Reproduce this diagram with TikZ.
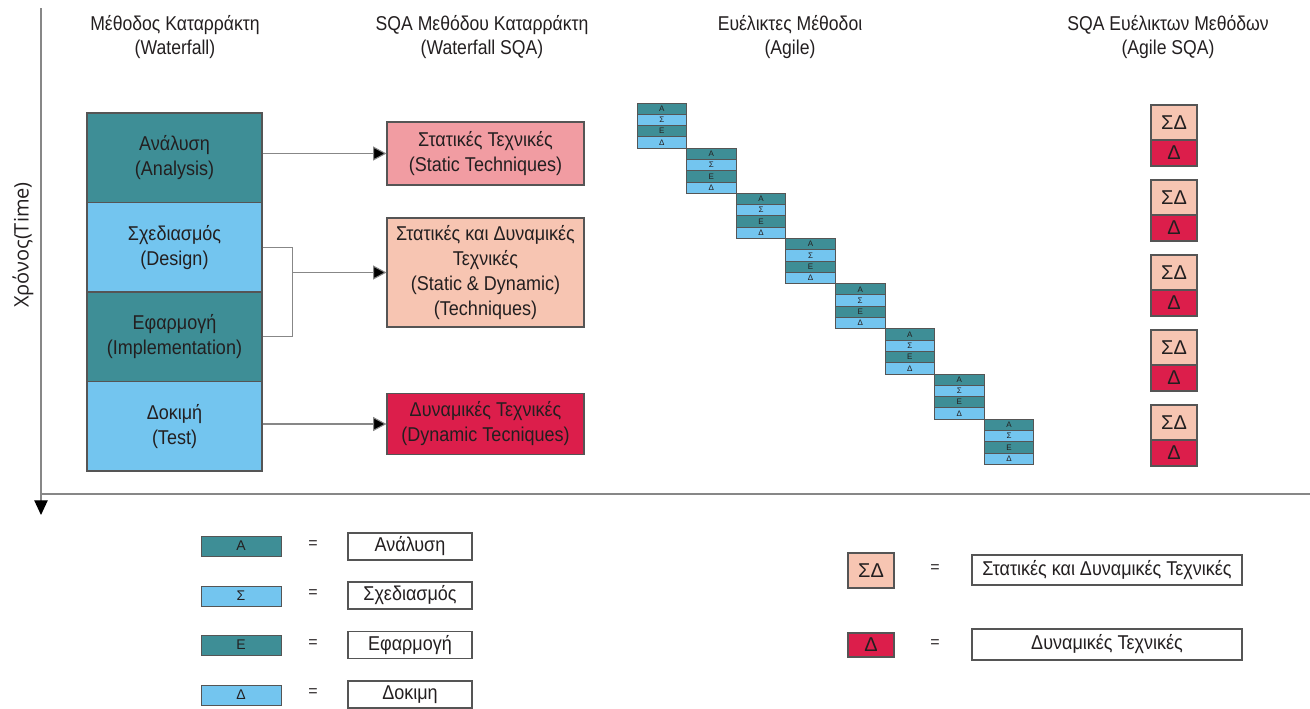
\documentclass[tikz,border=0pt]{standalone}
\usepackage{fontspec}
\setmainfont{Liberation Sans}
\newfontfamily\hdrfont[FakeStretch=0.88]{Liberation Sans}
\newfontfamily\bxfont[FakeStretch=0.9]{Liberation Sans}
\newfontfamily\axfont{Open Sans}
\usetikzlibrary{arrows.meta}
\definecolor{teal1}{RGB}{62,142,150}
\definecolor{lblue}{RGB}{115,197,239}
\definecolor{pinkA}{RGB}{241,156,162}
\definecolor{peach}{RGB}{247,197,178}
\definecolor{crim}{RGB}{220,30,75}
\definecolor{bord}{RGB}{85,85,85}
\definecolor{axisg}{RGB}{135,135,135}
\definecolor{txt}{RGB}{35,31,32}
\tikzset{
  sz/.style 2 args={minimum width=#1*0.75pt, minimum height=#2*0.75pt},
  box/.style={draw=bord, line width=0.8pt, inner sep=0pt, align=center, text=txt,
              font=\bxfont\fontsize{15}{18.75}\selectfont},
  hdr/.style={align=center, text=txt, font=\hdrfont\fontsize{15}{18}\selectfont},
  mini/.style={draw=bord, line width=0.6pt, inner sep=0pt, text=txt,
               minimum width=49.6*0.75pt, minimum height=11.29*0.75pt,
               font=\fontsize{6}{6}\selectfont},
  lgsym/.style={draw=bord, line width=0.7pt, inner sep=0pt, text=txt,
                font=\fontsize{10.5}{10.5}\selectfont},
  eq/.style={text=txt, font=\fontsize{12}{12}\selectfont},
  link/.style={draw=axisg, line width=0.8pt},
  arr/.style={link, -{Triangle[length=10pt,width=10.5pt,fill=black]}},
  axisline/.style={draw=axisg, line width=0.9pt}
}
\begin{document}
\begin{tikzpicture}[x=0.75pt, y={(0pt,-0.75pt)}]
\useasboundingbox (0,0) rectangle (1310,708);

% axes
\coordinate (ytop) at (41,8);
\coordinate (ybot) at (41,515);
\coordinate (xl) at (41,494);
\coordinate (xr) at (1310,494);
\draw[axisline] (xl) -- (xr);
\draw[axisline, -{Triangle[length=11pt,width=10pt,fill=black,color=black]}] (ytop) -- (ybot);
\node[rotate=90, text=txt, font=\axfont\fontsize{15}{15}\selectfont] (ylab) at (23,245) {Χρόνος(Time)};

% headers
\node[hdr] (h1) at (175,37) {Μέθοδος Καταρράκτη\\(Waterfall)};
\node[hdr] (h2) at (482,37) {SQA Μεθόδου Καταρράκτη\\(Waterfall SQA)};
\node[hdr] (h3) at (790,37) {Ευέλικτες Μέθοδοι\\(Agile)};
\node[hdr] (h4) at (1168,37) {SQA Ευέλικτων Μεθόδων\\(Agile SQA)};

% waterfall
\node[box, fill=teal1, sz={175}{89.5}] (wa) at (174.5,157.75) {Ανάλυση\\(Analysis)};
\node[box, fill=lblue, sz={175}{89.5}] (wd) at (174.5,247.25) {Σχεδιασμός\\(Design)};
\node[box, fill=teal1, sz={175}{89.5}] (wi) at (174.5,336.75) {Εφαρμογή\\(Implementation)};
\node[box, fill=lblue, sz={175}{89.5}] (wt) at (174.5,426.25) {Δοκιμή\\(Test)};

% waterfall SQA
\node[box, fill=pinkA, sz={197}{63}] (s1) at (485.5,153.5) {Στατικές Τεχνικές\\(Static Techniques)};
\node[box, fill=peach, sz={197}{109}] (s2) at (485.5,272.5) {Στατικές και Δυναμικές\\Τεχνικές\\(Static \& Dynamic)\\(Techniques)};
\node[box, fill=crim, sz={197}{61}] (s3) at (485.5,424) {Δυναμικές Τεχνικές\\(Dynamic Tecniques)};

\draw[arr] (wa.east |- s1.west) -- (s1.west);
\draw[link] (wd.east) -- ++(29.5,0) coordinate (bt) |- (wi.east);
\draw[arr] (bt |- s2.west) -- (s2.west);
\draw[arr] (wt.east |- s3.west) -- (s3.west);

% agile staircase
\foreach \k in {0,...,7} {
  \pgfmathsetmacro\xx{637+49.6*\k+24.8}
  \pgfmathsetmacro\yy{103+45.15*\k}
  \foreach \L/\C [count=\r from 0] in {Α/teal1,Σ/lblue,Ε/teal1,Δ/lblue} {
    \node[mini, fill=\C] (g\k-\r) at ({\xx},{\yy+11.29*\r+5.645}) {\L};
  }
}

% agile SQA
\foreach \j in {0,...,4} {
  \node[box, fill=peach, sz={46}{35}, font=\fontsize{15}{15}\selectfont] (sd\j) at (1174,{122.5+75*\j}) {ΣΔ};
  \node[box, fill=crim, sz={46}{26}, font=\fontsize{15}{15}\selectfont] (dd\j) at (1174,{153+75*\j}) {Δ};
}

% legend left
\node[lgsym, fill=teal1, sz={80}{20}] (k1) at (241,546) {Α};
\node[lgsym, fill=lblue, sz={80}{20}] (k2) at (241,596) {Σ};
\node[lgsym, fill=teal1, sz={80}{20}] (k3) at (241,645) {Ε};
\node[lgsym, fill=lblue, sz={80}{20}] (k4) at (241,695) {Δ};
\node[eq] (e1) at (313,545) {=};
\node[eq] (e2) at (313,594) {=};
\node[eq] (e3) at (313,644) {=};
\node[eq] (e4) at (313,693) {=};
\node[box, fill=white, sz={124}{27}] (t1) at (410,546.5) {Ανάλυση};
\node[box, fill=white, sz={124}{27}] (t2) at (410,595.5) {Σχεδιασμός};
\node[box, fill=white, sz={124}{27}] (t3) at (410,645) {Εφαρμογή};
\node[box, fill=white, sz={124}{27}] (t4) at (410,694.5) {Δοκιμη};

% legend right
\node[box, fill=peach, sz={46}{35}, font=\fontsize{15}{15}\selectfont] (k5) at (871,570.5) {ΣΔ};
\node[eq] (e5) at (935,569) {=};
\node[box, fill=white, sz={270}{30}] (t5) at (1107,570) {Στατικές και Δυναμικές Τεχνικές};
\node[box, fill=crim, sz={46}{24}, font=\fontsize{15}{15}\selectfont] (k6) at (871,645) {Δ};
\node[eq] (e6) at (935,644) {=};
\node[box, fill=white, sz={270}{31}] (t6) at (1107,644.5) {Δυναμικές Τεχνικές};
\end{tikzpicture}
\end{document}
